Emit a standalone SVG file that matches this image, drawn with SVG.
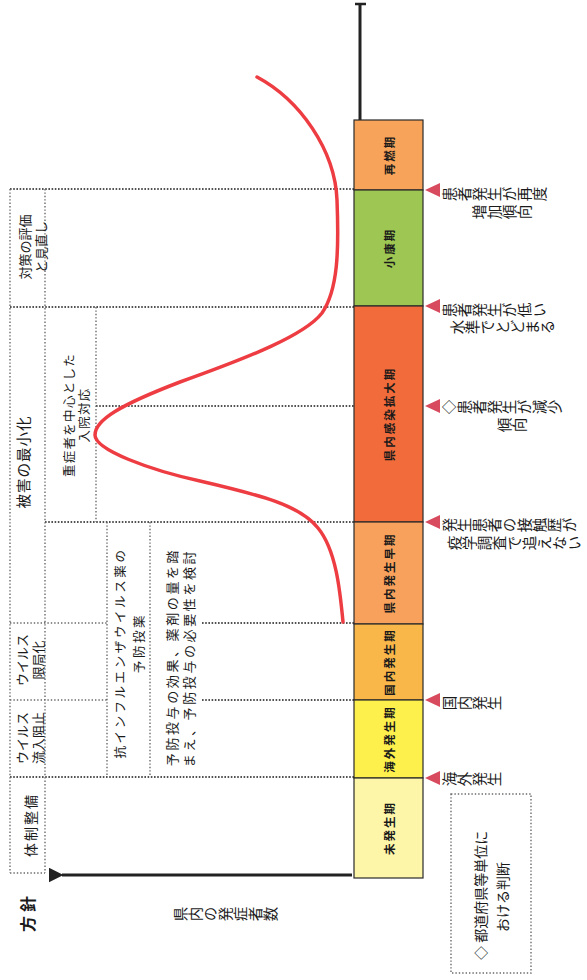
<svg xmlns="http://www.w3.org/2000/svg" width="587" height="980" viewBox="0 0 587 980">
<style>
.bg{fill:#ffffff}
.dot{stroke:#1a1a1a;stroke-width:1.6;stroke-dasharray:1.6 1.6;fill:none}
.gdot{stroke:#6a6a6a;stroke-width:1.4;stroke-dasharray:1.4 2;fill:none}
.bar{stroke:#2a2a2a;stroke-width:1.2}
.t{font-family:"Noto Sans CJK JP","Noto Sans CJK SC",sans-serif;fill:#1a1a1a}
.h{dominant-baseline:central;text-anchor:middle}
.v{writing-mode:vertical-rl;text-anchor:start}
.vm{writing-mode:vertical-rl;text-anchor:middle}
.bl{font-size:11.5px;font-weight:bold;letter-spacing:2px}
.rl{font-size:14.5px;letter-spacing:0.5px}
.tri{fill:#d84a5e}
.curve{fill:none;stroke:#ee3d42;stroke-width:3.5;stroke-linecap:round}
.axis{stroke:#222;stroke-width:3;fill:none}
</style>
<defs>
<marker id="ah" viewBox="0 0 10 10" refX="1" refY="5" markerWidth="5" markerHeight="5" orient="auto-start-reverse" markerUnits="strokeWidth">
<path d="M0,5 L10,0 L10,10 z" fill="#222"/>
</marker>
</defs>
<rect class="bg" x="0" y="0" width="587" height="980"/>

<g id="connectors">
<!-- dark horizontal dotted lines -->
<path class="dot" d="M10,189 H354 M10,307 H354 M96,406 H354 M45,522 H354 M202,623 H354 M202,700 H354 M10,777 H354"/>
<!-- gray column lines -->
<path class="gdot" d="M10,189 V873 M45,189 V873 M10,873 H45 M96,307 V522 M107,522 V777 M150,522 V777 M10,623 H107 M10,700 H107"/>
<!-- axes -->
<path class="axis" d="M360,120 V5"/>
<path d="M355,4 H366" stroke="#222" stroke-width="2.5"/>
<path class="axis" d="M352,875 H62" marker-end="url(#ah)"/>
</g>

<g id="curve">
<path class="curve" d="M257,77 C300,100 335,150 337,200 C339,250 338,290 322,313 C305,335 250,357 180,382 C120,405 95,420 95,435 C95,450 150,470 200,481 C260,495 300,505 318,528 C336,550 340,590 343,622"/>
</g>

<g id="phase-bar">
<rect class="bar" x="354" y="120" width="69" height="70" fill="#f7a359"/>
<rect class="bar" x="354" y="190" width="69" height="116" fill="#9dc653"/>
<rect class="bar" x="354" y="306" width="69" height="216" fill="#f26b3a"/>
<rect class="bar" x="354" y="522" width="69" height="102" fill="#f8a15c"/>
<rect class="bar" x="354" y="624" width="69" height="76" fill="#f9b74a"/>
<rect class="bar" x="354" y="700" width="69" height="78" fill="#fef04c"/>
<rect class="bar" x="354" y="778" width="69" height="100" fill="#fdf6a8"/>
</g>
<g id="phase-saien"><text class="t h bl" transform="translate(389,155) rotate(-90)">再燃期</text></g>
<g id="phase-shoko"><text class="t h bl" transform="translate(389,248) rotate(-90)">小康期</text></g>
<g id="phase-kennai-kakudai"><text class="t h bl" transform="translate(389,414) rotate(-90)">県内感染拡大期</text></g>
<g id="phase-kennai-soki"><text class="t h bl" transform="translate(389,573) rotate(-90)">県内発生早期</text></g>
<g id="phase-kokunai"><text class="t h bl" transform="translate(389,662) rotate(-90)">国内発生期</text></g>
<g id="phase-kaigai"><text class="t h bl" transform="translate(389,739) rotate(-90)">海外発生期</text></g>
<g id="phase-mihassei"><text class="t h bl" transform="translate(389,828) rotate(-90)">未発生期</text></g>

<g id="trigger-saizo">
<path class="tri" d="M425,190 L440,183 L440,197 z"/>
<text class="t v rl" transform="translate(442,194) rotate(-90)">患者発生が再度</text>
<text class="t v rl" transform="translate(472,212) rotate(-90)">増加傾向</text>
</g>
<g id="trigger-hikui">
<path class="tri" d="M425,306 L440,299 L440,313 z"/>
<text class="t v rl" transform="translate(442,310) rotate(-90)">患者発生が低い</text>
<text class="t v rl" transform="translate(450,327) rotate(-90)">水準でとどまる</text>
</g>
<g id="trigger-genshou">
<path class="tri" d="M425,406 L440,399 L440,413 z"/>
<text class="t v rl" transform="translate(442,407) rotate(-90)">◇患者発生が減少</text>
<text class="t v rl" transform="translate(497,425) rotate(-90)">傾向</text>
</g>
<g id="trigger-sesshoku">
<path class="tri" d="M425,522 L440,515 L440,529 z"/>
<text class="t v rl" transform="translate(442,525) rotate(-90)">発生患者の接触歴が</text>
<text class="t v rl" transform="translate(447,543) rotate(-90)">疫学調査で追えない</text>
</g>
<g id="trigger-kokunai">
<path class="tri" d="M425,700 L440,693 L440,707 z"/>
<text class="t v rl" transform="translate(442,703) rotate(-90)">国内発生</text>
</g>
<g id="trigger-kaigai">
<path class="tri" d="M425,778 L440,771 L440,785 z"/>
<text class="t v rl" transform="translate(442,779) rotate(-90)">海外発生</text>
</g>

<g id="legend">
<rect x="451" y="794" width="80" height="179" class="gdot"/>
<text class="t" font-size="14" dominant-baseline="central" transform="translate(480,960) rotate(-90)">◇ 都道府県等単位に</text>
<text class="t" font-size="14" dominant-baseline="central" transform="translate(502,932) rotate(-90)">おける判断</text>
</g>

<g id="policy-hyoka">
<text class="t h" font-size="13" transform="translate(24,247) rotate(-90)">対策の評価</text>
<text class="t h" font-size="13" transform="translate(40,247) rotate(-90)">と見直し</text>
</g>
<g id="policy-higai">
<text class="t h" font-size="14.5" letter-spacing="1" transform="translate(22,462) rotate(-90)">被害の最小化</text>
</g>
<g id="policy-nyuin">
<text class="t h" font-size="12.5" letter-spacing="1.3" transform="translate(68,415) rotate(-90)">重症者を中心とした</text>
<text class="t h" font-size="12.5" letter-spacing="1.3" transform="translate(83,415) rotate(-90)">入院対応</text>
</g>
<g id="policy-genkyoku">
<text class="t h" font-size="13" transform="translate(21,660) rotate(-90)">ウイルス</text>
<text class="t h" font-size="13" transform="translate(37,660) rotate(-90)">限局化</text>
</g>
<g id="policy-ryunyu">
<text class="t h" font-size="13" transform="translate(21,738) rotate(-90)">ウイルス</text>
<text class="t h" font-size="13" transform="translate(37,738) rotate(-90)">流入阻止</text>
</g>
<g id="policy-taisei">
<text class="t h" font-size="14" letter-spacing="2" transform="translate(30,825) rotate(-90)">体制整備</text>
</g>
<g id="policy-yobotoyaku">
<text class="t h" font-size="12.5" letter-spacing="2.6" transform="translate(119,653) rotate(-90)">抗インフルエンザウイルス薬の</text>
<text class="t h" font-size="12.5" letter-spacing="2.6" transform="translate(138,643) rotate(-90)">予防投薬</text>
</g>
<g id="policy-kento">
<text class="t h" font-size="13" letter-spacing="2.6" transform="translate(171,657) rotate(-90)">予防投与の効果、薬剤の量を踏</text>
<text class="t h" font-size="13" letter-spacing="2.6" transform="translate(188,658) rotate(-90)">まえ、予防投与の必要性を検討</text>
</g>
<g id="label-hoshin">
<text class="t h" font-size="16" font-weight="bold" letter-spacing="4" transform="translate(27,912) rotate(-90)">方針</text>
</g>
<g id="label-axis">
<text class="t v rl" transform="translate(173,914) rotate(-90)">県内の発症者数</text>
</g>
</svg>
